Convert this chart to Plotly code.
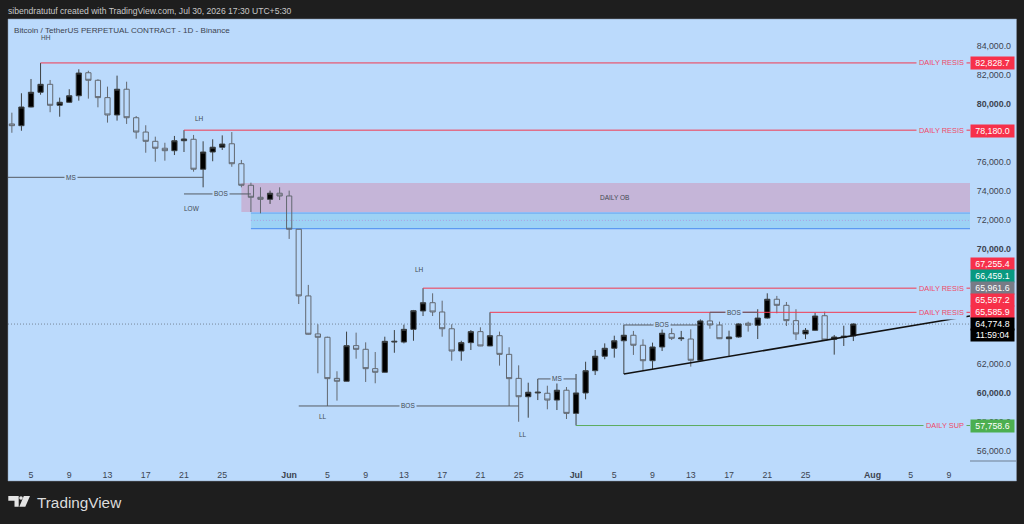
import plotly.graph_objects as go
import pandas as pd

# daily candles, May 3 to Jul 30 2026
dates = pd.date_range("2026-05-03", "2026-07-30", freq="D").strftime("%Y-%m-%d").tolist()
opens = [78610, 78490, 79780, 80800, 81350, 79900, 80110, 80560, 82150, 81630, 80430, 79230, 81010, 79040, 78050,
         77410, 76930, 76760, 77450, 77550, 75480, 76670, 77000, 77240, 75860, 74370, 73540, 73400, 73820, 73630,
         71330, 66720, 64090, 63860, 61020, 60820, 63280, 63030, 61690, 61440, 63530, 63530, 64410, 65680, 66250,
         65610, 64450, 62910, 63490, 64250, 63260, 63970, 62680, 61020, 59750, 60010, 59990, 59520, 60200, 58600,
         60010, 61550, 62550, 63100, 63620, 64000, 63310, 62240, 63190, 64110, 63760, 63740, 62270, 64990, 64710,
         63760, 63880, 64830, 64690, 65190, 66490, 66070, 65010, 64090, 64340, 65350, 63720, 63860, 63950]
highs = [79390, 80730, 81720, 82828.7, 81650, 80430, 81010, 82390, 82290, 81700, 81190, 81950, 81530, 79160, 78520,
         77730, 77310, 77780, 78180, 77850, 77410, 77550, 77820, 78050, 76120, 74550, 74230, 74000, 74230, 74000,
         71330, 67480, 64760, 63900, 61510, 64250, 64180, 63510, 62840, 63900, 64360, 64730, 65750, 67255.4, 66900,
         66390, 64760, 63620, 64360, 64550, 65585.9, 64250, 63170, 61920, 60720, 60980, 60510, 60790, 60420, 61320,
         62170, 62980, 63440, 63970, 64710, 64300, 63720, 63490, 65050, 64480, 64300, 64410, 65100, 65590, 64940,
         64320, 64830, 64940, 65800, 66900, 66720, 66300, 65800, 64500, 65560, 65630, 64020, 64660, 64830]
lows = [78000, 78140, 79760, 80630, 79420, 79110, 80080, 80220, 80360, 79760, 78700, 78840, 78610, 77590, 76620,
        76000, 76070, 76460, 76670, 75310, 74230, 76030, 76810, 75650, 74230, 72520, 72430, 73080, 73350, 70660,
        66160, 64050, 61370, 59110, 59480, 60810, 62380, 60770, 60680, 61430, 62790, 63440, 63620, 65330, 65330,
        63900, 62240, 62240, 62980, 63250, 63250, 61900, 59110, 58020, 58300, 59520, 58880, 58830, 58210, 57758.6,
        59570, 61250, 62340, 62450, 61320, 62640, 61550, 61670, 62910, 63670, 63600, 61830, 62240, 64450, 63740,
        62570, 63830, 64250, 63740, 65150, 65520, 64640, 63670, 63740, 64300, 63660, 62660, 63260, 63600]
closes = [78490, 79780, 80800, 81350, 79900, 80110, 80560, 82130, 81630, 80430, 79230, 81010, 79040, 78050, 77410,
          76930, 76760, 77450, 77570, 75480, 76670, 77000, 77220, 75860, 74370, 73540, 73400, 73820, 73630, 71330,
          66720, 64070, 63860, 61000, 60820, 63280, 63030, 61690, 61440, 63580, 63580, 64410, 65700, 66250, 65610,
          64450, 62910, 63490, 64250, 63260, 63970, 62680, 61000, 59750, 60060, 60060, 59520, 60200, 58600, 60010,
          61550, 62550, 63100, 63620, 64000, 63310, 62240, 63190, 64140, 63790, 63810, 62270, 64990, 64710, 63760,
          63880, 64780, 64690, 65190, 66490, 66070, 65010, 64090, 64340, 65330, 63670, 63880, 63930, 64774.8]

last_price = 64774.8
x_start = "2026-05-02 14:17"
x_end = "2026-08-11 04:48"

# axis ticks
price_ticks = [84000, 82000, 80000, 78000, 76000, 74000, 72000, 70000, 68000, 66000, 64000, 62000, 60000, 58000, 56000]
price_labels = ["84,000.0", "82,000.0", "<b>80,000.0</b>", "78,000.0", "76,000.0", "74,000.0", "72,000.0", "<b>70,000.0</b>",
                "68,000.0", "66,000.0", "64,000.0", "62,000.0", "<b>60,000.0</b>", "58,000.0", "56,000.0"]
date_ticks = ["2026-05-05", "2026-05-09", "2026-05-13", "2026-05-17", "2026-05-21", "2026-05-25", "2026-06-01", "2026-06-05",
              "2026-06-09", "2026-06-13", "2026-06-17", "2026-06-21", "2026-06-25", "2026-07-01", "2026-07-05", "2026-07-09",
              "2026-07-13", "2026-07-17", "2026-07-21", "2026-07-25", "2026-08-01", "2026-08-05", "2026-08-09"]
date_labels = ["5", "9", "13", "17", "21", "25", "<b>Jun</b>", "5", "9", "13", "17", "21", "25", "<b>Jul</b>", "5", "9",
               "13", "17", "21", "25", "<b>Aug</b>", "5", "9"]

# horizontal levels drawn on the chart
level_starts = ["2026-05-06", "2026-05-21", "2026-06-15", "2026-06-22", "2026-07-01"]
level_prices = [82828.7, 78180.0, 67255.4, 65585.9, 57758.6]
level_names = ["DAILY RESIS", "DAILY RESIS", "DAILY RESIS", "DAILY RESIS", "DAILY SUP"]
level_colors = ["#f23a50", "#f23a50", "#f23a50", "#f23a50", "#5cab5f"]

# structure lines with a label in the middle
struct_starts = [x_start, "2026-05-21", "2026-06-02", "2026-06-27", "2026-07-06", "2026-07-15"]
struct_ends = ["2026-05-23", "2026-05-28", "2026-06-25", "2026-07-01", "2026-07-14", "2026-07-20"]
struct_prices = [74920, 73770, 59110, 60980, 64710, 65590]
struct_names = ["MS", "BOS", "BOS", "MS", "BOS", "BOS"]
struct_mids = ["2026-05-09 04:00", "2026-05-24 20:00", "2026-06-13 10:00", "2026-06-29 00:00", "2026-07-10 00:00", "2026-07-17 12:00"]

# swing labels
swing_names = ["HH", "LH", "LOW", "LH", "LL", "LL"]
swing_dates = ["2026-05-06 14:00", "2026-05-22 14:00", "2026-05-21 20:00", "2026-06-14 14:00", "2026-06-04 12:00", "2026-06-25 11:00"]
swing_prices = [84590, 79020, 72730, 68580, 58350, 57105]

# price tags on the right scale
tag_texts = ["82,828.7", "78,180.0", "67,255.4", "66,459.1", "65,961.6", "65,597.2", "65,585.9", "64,774.8", "11:59:04", "57,758.6"]
tag_colors = ["#f7304a", "#f7304a", "#f7304a", "#089981", "#787b86", "#f7304a", "#f7304a", "#000000", "#000000", "#4caf50"]
tag_rows = [63.5, 130.5, 264, 276, 288, 300, 312, 324, 335, 425.5]

# zones
ob_top, ob_bottom = 74527, 72522
fvg_top, fvg_mid, fvg_bottom = 72453, 71941, 71368
trend_dates = ["2026-07-06", x_end]
trend_prices = [61320, 65332]

PANEL = "#bbdafc"
DARK = "#1e1e1e"
W, H = 1024, 524
L, R, T, B = 8, 970, 19, 461
FONT = "Liberation Sans"


def px(x):
    return (x - L) / (R - L)


def py(y):
    return (B - y) / (B - T)


fig = go.Figure()
fig.add_trace(go.Candlestick(
    x=dates, open=opens, high=highs, low=lows, close=closes,
    increasing=dict(line=dict(color="#3c4043", width=1), fillcolor="#000000"),
    decreasing=dict(line=dict(color="#626870", width=1), fillcolor="rgba(0,0,0,0)"),
    showlegend=False,
))

shapes = [
    # blue panel behind the plot and the time axis
    dict(type="rect", xref="paper", yref="paper", x0=px(8), x1=px(1016.5), y0=py(481), y1=py(19),
         fillcolor=PANEL, line=dict(color="#8a97a8", width=0.5), layer="below"),
    dict(type="line", xref="paper", yref="paper", x0=px(970), x1=px(1016.5), y0=py(461), y1=py(461),
         line=dict(color="#6f7f92", width=1)),
    # daily OB and the imbalance under it
    dict(type="rect", x0="2026-05-27", x1=x_end, y0=ob_bottom, y1=ob_top,
         fillcolor="#c5b5d8", line=dict(width=0), layer="below"),
    dict(type="rect", x0="2026-05-28", x1=x_end, y0=fvg_bottom, y1=fvg_top,
         fillcolor="#9dd2f5", line=dict(width=0), layer="below"),
    dict(type="line", x0="2026-05-28", x1=x_end, y0=fvg_top, y1=fvg_top, line=dict(color="#5f9df2", width=1), layer="below"),
    dict(type="line", x0="2026-05-28", x1=x_end, y0=fvg_bottom, y1=fvg_bottom, line=dict(color="#4a8df0", width=1), layer="below"),
    dict(type="line", x0="2026-05-28", x1=x_end, y0=fvg_mid, y1=fvg_mid, line=dict(color="#b48ad8", width=0.7, dash="1px,2px"), layer="below"),
    # last price
    dict(type="line", x0=x_start, x1=x_end, y0=last_price, y1=last_price, line=dict(color="#5a6470", width=0.7, dash="1px,2px"), layer="below"),
    # trend line
    dict(type="line", x0=trend_dates[0], x1=trend_dates[1], y0=trend_prices[0], y1=trend_prices[1], line=dict(color="#111111", width=1.6)),
]

# TradingView mark
for pts in ([(8.3, 496), (18.7, 496), (18.7, 506.7), (14.5, 506.7), (14.5, 500.8), (8.3, 500.8)],
            [(23.8, 496), (30, 496), (25.3, 506.7), (19.3, 506.7)]):
    path = "M " + " L ".join(f"{px(a)} {py(b)}" for a, b in pts) + " Z"
    shapes.append(dict(type="path", xref="paper", yref="paper", path=path, fillcolor="#e4e4e4", line=dict(width=0)))
shapes.append(dict(type="circle", xref="paper", yref="paper", x0=px(19.2), x1=px(22.8), y0=py(499.8), y1=py(496.2),
                   fillcolor="#e4e4e4", line=dict(width=0)))

for d, p, c in zip(level_starts, level_prices, level_colors):
    shapes.append(dict(type="line", x0=d, x1=x_end, y0=p, y1=p, line=dict(color=c, width=1)))
for a, b, p in zip(struct_starts, struct_ends, struct_prices):
    shapes.append(dict(type="line", x0=a, x1=b, y0=p, y1=p, line=dict(color="#555b63", width=1)))

annotations = [
    dict(text="sibendratutuf created with TradingView.com, Jul 30, 2026 17:30 UTC+5:30", xref="paper", yref="paper",
         x=px(6), y=py(11), xanchor="left", yanchor="middle", showarrow=False, font=dict(size=8.6, color="#c8c8c8", family=FONT)),
    dict(text="Bitcoin / TetherUS PERPETUAL CONTRACT - 1D - Binance", xref="paper", yref="paper",
         x=px(11.5), y=py(30.5), xanchor="left", yanchor="middle", showarrow=False, font=dict(size=8.1, color="#3c4450", family=FONT)),
    dict(text="TradingView", xref="paper", yref="paper", x=px(34.5), y=py(502.5), xanchor="left", yanchor="middle", showarrow=False,
         font=dict(size=15.3, color="#dcdcdc", family=FONT)),
    dict(text="DAILY OB", x="2026-07-05", y=73550, showarrow=False, font=dict(size=6.5, color="#444a52", family=FONT)),
]

for name, p, c in zip(level_names, level_prices, level_colors):
    annotations.append(dict(text=name, xref="paper", x=px(967), xanchor="right", y=p, showarrow=False, bgcolor=PANEL,
                            borderpad=2, font=dict(size=7.4, color="#ee4a68", family=FONT)))
for name, d, p in zip(struct_names, struct_mids, struct_prices):
    annotations.append(dict(text=name, x=d, y=p, showarrow=False, bgcolor=PANEL, borderpad=1,
                            font=dict(size=6.5, color="#444a52", family=FONT)))
for name, d, p in zip(swing_names, swing_dates, swing_prices):
    annotations.append(dict(text=name, x=d, y=p, showarrow=False, font=dict(size=6.5, color="#444a52", family=FONT)))
for text, c, row in zip(tag_texts, tag_colors, tag_rows):
    annotations.append(dict(text=text, xref="paper", yref="paper", x=px(992), y=py(row), xanchor="center", yanchor="middle",
                            showarrow=False, width=42, height=11, bgcolor=c, borderpad=0.5,
                            font=dict(size=8.8, color="#ffffff", family=FONT)))

fig.update_layout(
    width=W, height=H, autosize=False,
    margin=dict(l=L, r=W - R, t=T, b=H - B),
    paper_bgcolor=DARK, plot_bgcolor=PANEL,
    boxgap=0.22,
    shapes=shapes, annotations=annotations,
    showlegend=False,
    font=dict(family=FONT),
    xaxis=dict(type="date", range=[x_start, x_end], tickmode="array", tickvals=date_ticks, ticktext=date_labels,
               rangeslider=dict(visible=False), showgrid=False, zeroline=False, showline=False,
               ticks="outside", ticklen=5, tickcolor=PANEL, tickangle=0,
               tickfont=dict(size=8.8, color="#3c4450", family=FONT)),
    yaxis=dict(side="right", range=[55306, 85866], tickmode="array", tickvals=price_ticks, ticktext=price_labels,
               showgrid=False, zeroline=False, showline=False, ticks="outside", ticklen=4, tickcolor=PANEL,
               tickfont=dict(size=8.8, color="#3c4450", family=FONT)),
)

# the page has a default body margin that would push the figure off the window
fig.write_html("out.html", config=dict(displayModeBar=False),
               post_script="document.body.style.margin='0';document.documentElement.style.overflow='hidden';")
